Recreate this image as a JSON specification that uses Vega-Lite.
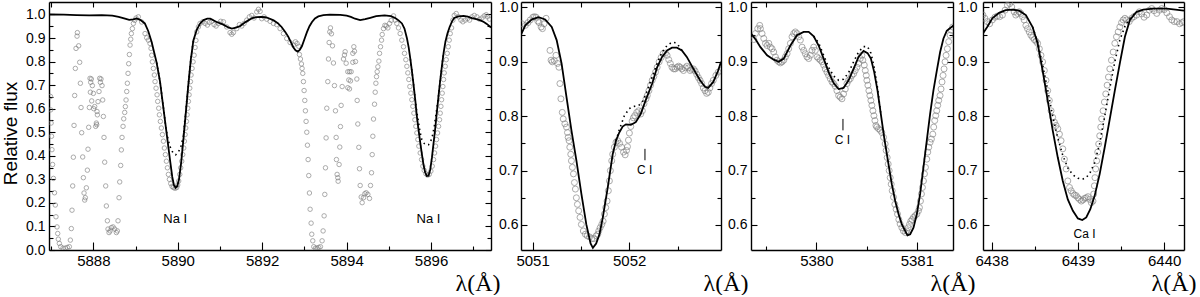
{
"$schema": "https://vega.github.io/schema/vega-lite/v6.json",
"padding": {"left": 1, "top": 0, "right": 0, "bottom": 0},
"spacing": 30,
"bounds": "flush",
"config": {
  "view": {"stroke": null},
  "axis": {"domainColor": "black", "domainWidth": 1.4, "tickColor": "black", "tickWidth": 1.1, "labelColor": "black", "labelFont": "Liberation Sans", "labelFontSize": 14, "labelOverlap": false, "labelFlush": false, "grid": false, "tickSize": -5, "titleColor": "black", "titleFontWeight": "normal"}
},
"datasets": {
"o1": [
{"w":5886.985,"f":0.652},{"w":5886.99,"f":0.595},{"w":5887.0,"f":0.539},{"w":5887.01,"f":0.483},{"w":5887.02,"f":0.426},{"w":5887.035,"f":0.363},{"w":5887.055,"f":0.304},{"w":5887.08,"f":0.243},{"w":5887.1,"f":0.191},{"w":5887.115,"f":0.141},{"w":5887.14,"f":0.098},{"w":5887.156,"f":0.07},{"w":5887.171,"f":0.046},{"w":5887.195,"f":0.028},{"w":5887.227,"f":0.014},{"w":5887.282,"f":0.008},{"w":5887.337,"f":0.008},{"w":5887.385,"f":0.011},{"w":5887.432,"f":0.014},
{"w":5887.456,"f":0.042},{"w":5887.479,"f":0.091},{"w":5887.495,"f":0.169},{"w":5887.511,"f":0.272},{"w":5887.527,"f":0.394},{"w":5887.543,"f":0.529},{"w":5887.558,"f":0.656},{"w":5887.574,"f":0.771},{"w":5887.59,"f":0.856},{"w":5887.614,"f":0.908},{"w":5887.622,"f":0.923},
{"w":5887.653,"f":0.867},{"w":5887.677,"f":0.797},{"w":5887.693,"f":0.708},{"w":5887.709,"f":0.605},{"w":5887.724,"f":0.498},{"w":5887.748,"f":0.395},{"w":5887.764,"f":0.307},{"w":5887.78,"f":0.242},{"w":5887.795,"f":0.212},{"w":5887.811,"f":0.222},
{"w":5887.835,"f":0.264},{"w":5887.859,"f":0.339},{"w":5887.874,"f":0.428},{"w":5887.89,"f":0.521},{"w":5887.906,"f":0.605},{"w":5887.93,"f":0.67},
{"w":5887.922,"f":0.729},{"w":5887.953,"f":0.726},{"w":5887.938,"f":0.712},{"w":5887.977,"f":0.698},{"w":5888.001,"f":0.665},{"w":5887.961,"f":0.633},{"w":5888.032,"f":0.609},{"w":5888.009,"f":0.6},{"w":5888.088,"f":0.588},{"w":5888.111,"f":0.63},{"w":5888.151,"f":0.729},{"w":5888.182,"f":0.726},{"w":5888.167,"f":0.712},{"w":5888.206,"f":0.698},{"w":5888.135,"f":0.673},{"w":5888.222,"f":0.637},{"w":5888.238,"f":0.567},{"w":5888.096,"f":0.574},{"w":5888.072,"f":0.539},{"w":5888.056,"f":0.525},{"w":5888.08,"f":0.532},
{"w":5888.253,"f":0.478},{"w":5888.269,"f":0.373},{"w":5888.293,"f":0.272},{"w":5888.309,"f":0.187},{"w":5888.333,"f":0.124},{"w":5888.348,"f":0.089},{"w":5888.372,"f":0.074},{"w":5888.396,"f":0.081},{"w":5888.427,"f":0.095},{"w":5888.467,"f":0.098},{"w":5888.506,"f":0.089},{"w":5888.546,"f":0.074},{"w":5888.569,"f":0.081},
{"w":5888.585,"f":0.124},{"w":5888.609,"f":0.222},{"w":5888.625,"f":0.289},{"w":5888.648,"f":0.359},{"w":5888.664,"f":0.425},{"w":5888.68,"f":0.478},{"w":5888.704,"f":0.525},{"w":5888.72,"f":0.557},{"w":5888.743,"f":0.584},{"w":5888.759,"f":0.609},{"w":5888.775,"f":0.637},{"w":5888.791,"f":0.673},{"w":5888.806,"f":0.708},{"w":5888.822,"f":0.75},{"w":5888.838,"f":0.791},{"w":5888.854,"f":0.83},{"w":5888.87,"f":0.87},{"w":5888.886,"f":0.895},{"w":5888.901,"f":0.919},{"w":5888.925,"f":0.94},{"w":5888.949,"f":0.962},{"w":5888.98,"f":0.975},{"w":5889.012,"f":0.985},
{"w":5889.066,"f":0.99},{"w":5889.146,"f":0.968},{"w":5889.225,"f":0.919},{"w":5889.264,"f":0.901},{"w":5889.304,"f":0.891},{"w":5889.343,"f":0.877},{"w":5889.367,"f":0.856},{"w":5889.383,"f":0.827},{"w":5889.399,"f":0.799},{"w":5889.422,"f":0.771},{"w":5889.446,"f":0.743},{"w":5889.462,"f":0.715},{"w":5889.486,"f":0.687},{"w":5889.51,"f":0.659},{"w":5889.525,"f":0.631},{"w":5889.549,"f":0.602},{"w":5889.565,"f":0.574},{"w":5889.588,"f":0.546},{"w":5889.612,"f":0.518},{"w":5889.636,"f":0.49},{"w":5889.66,"f":0.462},{"w":5889.683,"f":0.433},{"w":5889.707,"f":0.405},{"w":5889.731,"f":0.377},{"w":5889.755,"f":0.349},{"w":5889.778,"f":0.321},{"w":5889.802,"f":0.3},{"w":5889.834,"f":0.282},{"w":5889.865,"f":0.27},{"w":5889.897,"f":0.265},{"w":5889.936,"f":0.262},{"w":5889.975,"f":0.265},{"w":5889.999,"f":0.276},{"w":5890.023,"f":0.293},{"w":5890.047,"f":0.321},{"w":5890.07,"f":0.349},{"w":5890.094,"f":0.377},{"w":5890.118,"f":0.405},{"w":5890.142,"f":0.433},{"w":5890.157,"f":0.462},{"w":5890.173,"f":0.49},{"w":5890.189,"f":0.518},{"w":5890.205,"f":0.546},{"w":5890.221,"f":0.574},{"w":5890.237,"f":0.602},{"w":5890.252,"f":0.631},{"w":5890.268,"f":0.659},{"w":5890.284,"f":0.687},{"w":5890.3,"f":0.715},{"w":5890.315,"f":0.743},{"w":5890.339,"f":0.771},{"w":5890.363,"f":0.799},{"w":5890.387,"f":0.827},{"w":5890.41,"f":0.86},{"w":5890.43,"f":0.89},
{"w":5890.449,"f":0.926},{"w":5890.489,"f":0.947},{"w":5890.528,"f":0.962},{"w":5890.592,"f":0.969},{"w":5890.647,"f":0.962},{"w":5890.702,"f":0.955},{"w":5890.75,"f":0.966},{"w":5890.805,"f":0.971},{"w":5890.86,"f":0.957},{"w":5890.908,"f":0.951},{"w":5890.963,"f":0.962},{"w":5891.018,"f":0.971},{"w":5891.082,"f":0.969},{"w":5891.16,"f":0.947},{"w":5891.239,"f":0.923},{"w":5891.279,"f":0.916},{"w":5891.318,"f":0.923},{"w":5891.397,"f":0.94},{"w":5891.46,"f":0.957},{"w":5891.516,"f":0.951},{"w":5891.571,"f":0.962},{"w":5891.634,"f":0.976},{"w":5891.697,"f":0.99},{"w":5891.753,"f":0.996},{"w":5891.808,"f":0.985},{"w":5891.871,"f":1.011},{"w":5891.911,"f":1.022},{"w":5891.95,"f":1.013},{"w":5891.99,"f":0.982},{"w":5892.045,"f":0.99},{"w":5892.108,"f":0.98},{"w":5892.187,"f":0.971},{"w":5892.266,"f":0.962},{"w":5892.345,"f":0.957},{"w":5892.424,"f":0.94},{"w":5892.503,"f":0.919},{"w":5892.582,"f":0.898},{"w":5892.661,"f":0.881},{"w":5892.74,"f":0.87},{"w":5892.787,"f":0.884},{"w":5892.827,"f":0.877},{"w":5892.866,"f":0.865},
{"w":5892.882,"f":0.83},{"w":5892.906,"f":0.811},{"w":5892.93,"f":0.79},{"w":5892.945,"f":0.771},{"w":5892.961,"f":0.75},{"w":5892.977,"f":0.715},{"w":5892.993,"f":0.677},{"w":5893.009,"f":0.635},{"w":5893.024,"f":0.591},{"w":5893.04,"f":0.546},{"w":5893.056,"f":0.5},{"w":5893.072,"f":0.445},{"w":5893.088,"f":0.384},{"w":5893.103,"f":0.316},{"w":5893.119,"f":0.242},{"w":5893.135,"f":0.173},{"w":5893.159,"f":0.114},{"w":5893.174,"f":0.067},{"w":5893.198,"f":0.039},{"w":5893.222,"f":0.014},{"w":5893.261,"f":0.008},{"w":5893.301,"f":0.008},{"w":5893.34,"f":0.011},{"w":5893.38,"f":0.014},{"w":5893.419,"f":0.039},{"w":5893.443,"f":0.081},{"w":5893.467,"f":0.145},
{"w":5893.483,"f":0.236},{"w":5893.499,"f":0.349},{"w":5893.514,"f":0.476},{"w":5893.53,"f":0.602},{"w":5893.554,"f":0.715},{"w":5893.57,"f":0.811},{"w":5893.586,"f":0.881},{"w":5893.601,"f":0.926},{"w":5893.617,"f":0.943},{"w":5893.641,"f":0.918},{"w":5893.665,"f":0.867},{"w":5893.688,"f":0.794},{"w":5893.712,"f":0.698},{"w":5893.736,"f":0.591},{"w":5893.752,"f":0.478},{"w":5893.759,"f":0.384},{"w":5893.775,"f":0.321},{"w":5893.791,"f":0.307},{"w":5893.799,"f":0.292},{"w":5893.87,"f":0.614},{"w":5893.854,"f":0.524},{"w":5893.838,"f":0.437},{"w":5893.822,"f":0.363},{"w":5893.965,"f":0.842},{"w":5893.949,"f":0.828},{"w":5893.926,"f":0.811},{"w":5893.989,"f":0.793},{"w":5894.028,"f":0.757},{"w":5894.068,"f":0.757},{"w":5894.107,"f":0.757},{"w":5894.052,"f":0.722},{"w":5894.092,"f":0.718},{"w":5894.028,"f":0.689},{"w":5894.068,"f":0.684},{"w":5893.894,"f":0.694},{"w":5894.171,"f":0.863},{"w":5894.186,"f":0.844},{"w":5894.147,"f":0.835},{"w":5894.21,"f":0.8},{"w":5894.147,"f":0.797},{"w":5894.242,"f":0.726},{"w":5894.25,"f":0.635},{"w":5894.265,"f":0.535},{"w":5894.289,"f":0.436},{"w":5894.305,"f":0.345},{"w":5894.321,"f":0.274},{"w":5894.345,"f":0.225},{"w":5894.368,"f":0.201},{"w":5894.4,"f":0.222},{"w":5894.432,"f":0.239},{"w":5894.463,"f":0.243},{"w":5894.503,"f":0.236},{"w":5894.542,"f":0.219},{"w":5894.566,"f":0.274},{"w":5894.59,"f":0.328},{"w":5894.606,"f":0.405},{"w":5894.621,"f":0.483},{"w":5894.637,"f":0.556},{"w":5894.661,"f":0.619},{"w":5894.677,"f":0.67},{"w":5894.693,"f":0.708},{"w":5894.708,"f":0.736},{"w":5894.724,"f":0.757},{"w":5894.74,"f":0.778},{"w":5894.764,"f":0.802},{"w":5894.78,"f":0.835},{"w":5894.803,"f":0.863},{"w":5894.827,"f":0.891},{"w":5894.843,"f":0.915},{"w":5894.874,"f":0.94},{"w":5894.906,"f":0.954},{"w":5894.938,"f":0.951},{"w":5894.977,"f":0.943},{"w":5895.017,"f":0.962},{"w":5895.056,"f":0.975},{"w":5895.112,"f":0.994},
{"w":5895.149,"f":0.976},{"w":5895.189,"f":0.962},{"w":5895.228,"f":0.943},{"w":5895.268,"f":0.919},{"w":5895.307,"f":0.891},{"w":5895.347,"f":0.863},{"w":5895.371,"f":0.835},{"w":5895.403,"f":0.808},{"w":5895.427,"f":0.78},{"w":5895.45,"f":0.752},{"w":5895.474,"f":0.724},{"w":5895.498,"f":0.694},{"w":5895.522,"f":0.666},{"w":5895.545,"f":0.638},{"w":5895.569,"f":0.61},{"w":5895.593,"f":0.581},{"w":5895.617,"f":0.553},{"w":5895.64,"f":0.525},{"w":5895.664,"f":0.497},{"w":5895.688,"f":0.469},{"w":5895.711,"f":0.441},{"w":5895.743,"f":0.412},{"w":5895.775,"f":0.384},{"w":5895.806,"f":0.356},{"w":5895.838,"f":0.338},{"w":5895.877,"f":0.324},{"w":5895.917,"f":0.318},{"w":5895.957,"f":0.321},{"w":5895.996,"f":0.335},{"w":5896.028,"f":0.356},{"w":5896.059,"f":0.384},{"w":5896.083,"f":0.412},{"w":5896.107,"f":0.441},{"w":5896.13,"f":0.469},{"w":5896.154,"f":0.497},{"w":5896.178,"f":0.525},{"w":5896.201,"f":0.553},{"w":5896.217,"f":0.581},{"w":5896.233,"f":0.61},{"w":5896.249,"f":0.638},{"w":5896.265,"f":0.666},{"w":5896.28,"f":0.694},{"w":5896.296,"f":0.724},{"w":5896.312,"f":0.752},{"w":5896.336,"f":0.78},{"w":5896.359,"f":0.808},{"w":5896.383,"f":0.835},{"w":5896.407,"f":0.863},{"w":5896.43,"f":0.891},{"w":5896.454,"f":0.919},{"w":5896.486,"f":0.943},{"w":5896.517,"f":0.976},{"w":5896.549,"f":0.996},{"w":5896.596,"f":1.004},{"w":5896.652,"f":0.99},{"w":5896.707,"f":0.976},{"w":5896.754,"f":0.969},{"w":5896.81,"f":0.976},{"w":5896.865,"f":0.983},{"w":5896.912,"f":0.976},{"w":5896.968,"f":0.99},{"w":5897.023,"f":0.996},{"w":5897.086,"f":0.99},{"w":5897.15,"f":0.98},{"w":5897.205,"f":0.985},{"w":5897.258,"f":0.994},{"w":5897.306,"f":0.999},{"w":5897.337,"f":0.99},{"w":5897.385,"f":0.98}
],
"m1": [
{"w":5886.95,"f":1.0},{"w":5887.3,"f":0.999},{"w":5887.6,"f":0.997},{"w":5887.9,"f":0.996},{"w":5888.2,"f":0.997},{"w":5888.45,"f":0.995},{"w":5888.6,"f":0.99},{"w":5888.75,"f":0.982},{"w":5888.85,"f":0.977},{"w":5888.95,"f":0.979},{"w":5889.03,"f":0.983},{"w":5889.12,"f":0.976},{"w":5889.22,"f":0.962},{"w":5889.3,"f":0.93},{"w":5889.38,"f":0.884},{"w":5889.44,"f":0.84},{"w":5889.5,"f":0.795},{"w":5889.58,"f":0.715},{"w":5889.66,"f":0.602},{"w":5889.74,"f":0.49},{"w":5889.82,"f":0.377},{"w":5889.87,"f":0.31},{"w":5889.91,"f":0.275},{"w":5889.95,"f":0.264},{"w":5889.99,"f":0.272},{"w":5890.03,"f":0.3},{"w":5890.08,"f":0.37},{"w":5890.13,"f":0.462},{"w":5890.19,"f":0.58},{"w":5890.25,"f":0.7},{"w":5890.31,"f":0.81},{"w":5890.37,"f":0.89},{"w":5890.45,"f":0.935},{"w":5890.53,"f":0.962},{"w":5890.61,"f":0.976},{"w":5890.7,"f":0.982},{"w":5890.77,"f":0.982},{"w":5890.92,"f":0.968},{"w":5891.08,"f":0.957},{"w":5891.2,"f":0.945},{"w":5891.28,"f":0.94},{"w":5891.38,"f":0.944},{"w":5891.48,"f":0.951},{"w":5891.58,"f":0.965},{"w":5891.67,"f":0.975},{"w":5891.77,"f":0.985},{"w":5891.87,"f":0.989},{"w":5891.97,"f":0.99},{"w":5892.07,"f":0.989},{"w":5892.17,"f":0.983},{"w":5892.27,"f":0.975},{"w":5892.37,"f":0.963},{"w":5892.46,"f":0.947},{"w":5892.55,"f":0.925},{"w":5892.62,"f":0.905},{"w":5892.69,"f":0.878},{"w":5892.74,"f":0.86},{"w":5892.79,"f":0.848},{"w":5892.84,"f":0.842},{"w":5892.89,"f":0.85},{"w":5892.94,"f":0.865},{"w":5893.0,"f":0.895},{"w":5893.06,"f":0.925},{"w":5893.12,"f":0.95},{"w":5893.18,"f":0.968},{"w":5893.25,"f":0.983},{"w":5893.33,"f":0.992},{"w":5893.45,"f":0.997},{"w":5893.6,"f":0.999},{"w":5893.85,"f":0.998},{"w":5894.0,"f":0.995},{"w":5894.1,"f":0.99},{"w":5894.2,"f":0.982},{"w":5894.32,"f":0.976},{"w":5894.44,"f":0.98},{"w":5894.56,"f":0.986},{"w":5894.7,"f":0.993},{"w":5894.9,"f":0.996},{"w":5895.05,"f":0.993},{"w":5895.15,"f":0.985},{"w":5895.23,"f":0.975},{"w":5895.31,"f":0.962},{"w":5895.37,"f":0.94},{"w":5895.43,"f":0.898},{"w":5895.47,"f":0.86},{"w":5895.51,"f":0.81},{"w":5895.55,"f":0.755},{"w":5895.59,"f":0.695},{"w":5895.63,"f":0.63},{"w":5895.66,"f":0.574},{"w":5895.7,"f":0.515},{"w":5895.74,"f":0.461},{"w":5895.78,"f":0.41},{"w":5895.82,"f":0.363},{"w":5895.86,"f":0.33},{"w":5895.9,"f":0.314},{"w":5895.94,"f":0.315},{"w":5895.98,"f":0.34},{"w":5896.02,"f":0.391},{"w":5896.06,"f":0.455},{"w":5896.1,"f":0.518},{"w":5896.14,"f":0.59},{"w":5896.18,"f":0.659},{"w":5896.22,"f":0.725},{"w":5896.26,"f":0.785},{"w":5896.3,"f":0.84},{"w":5896.34,"f":0.884},{"w":5896.39,"f":0.92},{"w":5896.44,"f":0.947},{"w":5896.5,"f":0.972},{"w":5896.55,"f":0.985},{"w":5896.65,"f":0.992},{"w":5896.77,"f":0.994},{"w":5896.87,"f":0.991},{"w":5896.97,"f":0.985},{"w":5897.07,"f":0.98},{"w":5897.17,"f":0.975},{"w":5897.25,"f":0.968},{"w":5897.32,"f":0.96},{"w":5897.42,"f":0.945}
],
"d1": [
{"w":5889.5,"f":0.795},{"w":5889.58,"f":0.715},{"w":5889.66,"f":0.605},{"w":5889.72,"f":0.515},{"w":5889.78,"f":0.462},{"w":5889.84,"f":0.427},{"w":5889.9,"f":0.409},{"w":5889.95,"f":0.404},{"w":5890.01,"f":0.415},{"w":5890.07,"f":0.436},{"w":5890.13,"f":0.48},{"w":5890.17,"f":0.55},{"w":5890.21,"f":0.625},{"w":5890.25,"f":0.7},{"w":5890.31,"f":0.81},{"w":5890.37,"f":0.89},
{"w":5895.51,"f":0.81},{"w":5895.55,"f":0.755},{"w":5895.59,"f":0.695},{"w":5895.63,"f":0.63},{"w":5895.66,"f":0.59},{"w":5895.7,"f":0.545},{"w":5895.74,"f":0.5},{"w":5895.78,"f":0.47},{"w":5895.84,"f":0.452},{"w":5895.89,"f":0.446},{"w":5895.94,"f":0.447},{"w":5895.99,"f":0.46},{"w":5896.04,"f":0.49},{"w":5896.08,"f":0.53},{"w":5896.12,"f":0.58},{"w":5896.16,"f":0.63},{"w":5896.18,"f":0.659},{"w":5896.22,"f":0.725},{"w":5896.26,"f":0.785},{"w":5896.3,"f":0.84}
],
"t1": [{"w":5889.94,"f":0.132,"t":"Na I"},{"w":5895.94,"f":0.132,"t":"Na I"}],
"o2": [
{"w":5050.89,"f":0.97},{"w":5050.925,"f":0.967},{"w":5050.952,"f":0.972},{"w":5050.976,"f":0.977},{"w":5051.003,"f":0.982},{"w":5051.02,"f":0.983},{"w":5051.037,"f":0.982},{"w":5051.054,"f":0.975},{"w":5051.068,"f":0.972},{"w":5051.088,"f":0.964},{"w":5051.102,"f":0.961},{"w":5051.119,"f":0.97},{"w":5051.14,"f":0.98},{"w":5051.18,"f":0.921},{"w":5051.191,"f":0.903},{"w":5051.204,"f":0.9},{"w":5051.225,"f":0.902},{"w":5051.242,"f":0.912},{"w":5051.259,"f":0.897},{"w":5051.273,"f":0.89},{"w":5051.283,"f":0.86},{"w":5051.293,"f":0.832},{"w":5051.307,"f":0.807},{"w":5051.317,"f":0.795},{"w":5051.334,"f":0.786},{"w":5051.351,"f":0.78},{"w":5051.361,"f":0.77},{"w":5051.368,"f":0.761},{"w":5051.378,"f":0.755},{"w":5051.385,"f":0.743},{"w":5051.395,"f":0.73},{"w":5051.402,"f":0.718},{"w":5051.412,"f":0.706},{"w":5051.423,"f":0.694},{"w":5051.433,"f":0.678},{"w":5051.443,"f":0.666},{"w":5051.453,"f":0.65},{"w":5051.464,"f":0.638},{"w":5051.477,"f":0.626},{"w":5051.491,"f":0.614},{"w":5051.505,"f":0.601},{"w":5051.525,"f":0.589},{"w":5051.546,"f":0.583},{"w":5051.566,"f":0.58},{"w":5051.59,"f":0.578},{"w":5051.614,"f":0.575},{"w":5051.634,"f":0.575},{"w":5051.658,"f":0.58},{"w":5051.675,"f":0.583},{"w":5051.685,"f":0.589},{"w":5051.699,"f":0.595},{"w":5051.716,"f":0.601},{"w":5051.73,"f":0.607},{"w":5051.743,"f":0.62},{"w":5051.757,"f":0.632},{"w":5051.771,"f":0.644},{"w":5051.784,"f":0.663},{"w":5051.795,"f":0.681},{"w":5051.805,"f":0.7},{"w":5051.819,"f":0.718},{"w":5051.829,"f":0.73},{"w":5051.846,"f":0.743},{"w":5051.863,"f":0.752},{"w":5051.88,"f":0.755},{"w":5051.9,"f":0.75},{"w":5051.921,"f":0.743},{"w":5051.941,"f":0.734},{"w":5051.958,"f":0.729},{"w":5051.972,"f":0.737},{"w":5051.982,"f":0.744},{"w":5051.992,"f":0.756},{"w":5052.002,"f":0.769},{"w":5052.016,"f":0.781},{"w":5052.03,"f":0.791},{"w":5052.043,"f":0.797},{"w":5052.057,"f":0.801},{"w":5052.078,"f":0.807},{"w":5052.098,"f":0.81},{"w":5052.119,"f":0.804},{"w":5052.136,"f":0.81},{"w":5052.153,"f":0.823},{"w":5052.174,"f":0.832},{"w":5052.187,"f":0.838},{"w":5052.204,"f":0.847},{"w":5052.221,"f":0.857},{"w":5052.238,"f":0.866},{"w":5052.255,"f":0.873},{"w":5052.272,"f":0.881},{"w":5052.289,"f":0.89},{"w":5052.31,"f":0.9},{"w":5052.33,"f":0.908},{"w":5052.351,"f":0.915},{"w":5052.375,"f":0.916},{"w":5052.392,"f":0.912},{"w":5052.409,"f":0.904},{"w":5052.426,"f":0.897},{"w":5052.443,"f":0.89},{"w":5052.46,"f":0.887},{"w":5052.477,"f":0.887},{"w":5052.494,"f":0.89},{"w":5052.511,"f":0.892},{"w":5052.528,"f":0.89},{"w":5052.545,"f":0.887},{"w":5052.562,"f":0.884},{"w":5052.58,"f":0.889},{"w":5052.597,"f":0.892},{"w":5052.614,"f":0.889},{"w":5052.631,"f":0.884},{"w":5052.648,"f":0.886},{"w":5052.665,"f":0.887},{"w":5052.682,"f":0.883},{"w":5052.699,"f":0.877},{"w":5052.716,"f":0.871},{"w":5052.733,"f":0.866},{"w":5052.75,"f":0.86},{"w":5052.767,"f":0.852},{"w":5052.784,"f":0.847},{"w":5052.801,"f":0.842},{"w":5052.818,"f":0.844},{"w":5052.835,"f":0.852},{"w":5052.852,"f":0.86},{"w":5052.87,"f":0.866},{"w":5052.897,"f":0.875},{"w":5052.921,"f":0.881},{"w":5052.945,"f":0.884}
],
"m2": [
{"w":5050.88,"f":0.95},{"w":5050.925,"f":0.967},{"w":5050.993,"f":0.978},{"w":5051.061,"f":0.982},{"w":5051.13,"f":0.978},{"w":5051.198,"f":0.964},{"w":5051.249,"f":0.94},{"w":5051.3,"f":0.897},{"w":5051.351,"f":0.835},{"w":5051.402,"f":0.774},{"w":5051.454,"f":0.718},{"w":5051.505,"f":0.657},{"w":5051.556,"f":0.601},{"w":5051.6,"f":0.566},{"w":5051.624,"f":0.558},{"w":5051.658,"f":0.566},{"w":5051.692,"f":0.583},{"w":5051.727,"f":0.614},{"w":5051.778,"f":0.669},{"w":5051.829,"f":0.73},{"w":5051.863,"f":0.755},{"w":5051.897,"f":0.77},{"w":5051.932,"f":0.781},{"w":5051.966,"f":0.785},{"w":5052.017,"f":0.784},{"w":5052.068,"f":0.789},{"w":5052.119,"f":0.804},{"w":5052.17,"f":0.829},{"w":5052.238,"f":0.86},{"w":5052.289,"f":0.89},{"w":5052.34,"f":0.909},{"w":5052.392,"f":0.921},{"w":5052.443,"f":0.926},{"w":5052.494,"f":0.926},{"w":5052.545,"f":0.921},{"w":5052.596,"f":0.909},{"w":5052.665,"f":0.887},{"w":5052.733,"f":0.866},{"w":5052.784,"f":0.854},{"w":5052.818,"f":0.852},{"w":5052.87,"f":0.863},{"w":5052.921,"f":0.884},{"w":5052.95,"f":0.9}
],
"d2": [
{"w":5051.863,"f":0.755},{"w":5051.897,"f":0.775},{"w":5051.95,"f":0.801},{"w":5052.0,"f":0.814},{"w":5052.05,"f":0.818},{"w":5052.1,"f":0.82},{"w":5052.147,"f":0.829},{"w":5052.187,"f":0.848},{"w":5052.238,"f":0.872},{"w":5052.289,"f":0.897},{"w":5052.34,"f":0.918},{"w":5052.392,"f":0.93},{"w":5052.443,"f":0.936},{"w":5052.48,"f":0.935},{"w":5052.52,"f":0.928},{"w":5052.545,"f":0.921}
],
"t2": [{"w":5052.16,"f":0.701,"t":"C I"}],
"r2": [{"w":5052.163,"f":0.719,"f2":0.74}],
"o3": [
{"w":5379.378,"f":0.941},{"w":5379.394,"f":0.952},{"w":5379.417,"f":0.961},{"w":5379.437,"f":0.967},{"w":5379.444,"f":0.961},{"w":5379.46,"f":0.952},{"w":5379.477,"f":0.943},{"w":5379.494,"f":0.934},{"w":5379.51,"f":0.93},{"w":5379.527,"f":0.934},{"w":5379.543,"f":0.927},{"w":5379.56,"f":0.924},{"w":5379.576,"f":0.918},{"w":5379.593,"f":0.909},{"w":5379.609,"f":0.903},{"w":5379.626,"f":0.9},{"w":5379.643,"f":0.898},{"w":5379.659,"f":0.9},{"w":5379.676,"f":0.903},{"w":5379.692,"f":0.909},{"w":5379.709,"f":0.915},{"w":5379.725,"f":0.924},{"w":5379.742,"f":0.934},{"w":5379.758,"f":0.946},{"w":5379.775,"f":0.952},{"w":5379.791,"f":0.955},{"w":5379.808,"f":0.952},{"w":5379.825,"f":0.946},{"w":5379.841,"f":0.94},{"w":5379.858,"f":0.927},{"w":5379.874,"f":0.921},{"w":5379.891,"f":0.915},{"w":5379.907,"f":0.909},{"w":5379.924,"f":0.906},{"w":5379.94,"f":0.912},{"w":5379.957,"f":0.921},{"w":5379.974,"f":0.927},{"w":5379.99,"f":0.921},{"w":5380.007,"f":0.909},{"w":5380.023,"f":0.906},{"w":5380.04,"f":0.903},{"w":5380.056,"f":0.9},{"w":5380.073,"f":0.894},{"w":5380.089,"f":0.887},{"w":5380.106,"f":0.881},{"w":5380.122,"f":0.875},{"w":5380.139,"f":0.869},{"w":5380.156,"f":0.863},{"w":5380.172,"f":0.86},{"w":5380.189,"f":0.855},{"w":5380.205,"f":0.847},{"w":5380.222,"f":0.838},{"w":5380.238,"f":0.835},{"w":5380.255,"f":0.832},{"w":5380.271,"f":0.841},{"w":5380.288,"f":0.85},{"w":5380.305,"f":0.86},{"w":5380.321,"f":0.866},{"w":5380.338,"f":0.869},{"w":5380.354,"f":0.875},{"w":5380.371,"f":0.878},{"w":5380.387,"f":0.884},{"w":5380.404,"f":0.89},{"w":5380.42,"f":0.897},{"w":5380.437,"f":0.906},{"w":5380.453,"f":0.912},{"w":5380.463,"f":0.903},{"w":5380.477,"f":0.894},{"w":5380.487,"f":0.884},{"w":5380.497,"f":0.875},{"w":5380.503,"f":0.866},{"w":5380.513,"f":0.857},{"w":5380.523,"f":0.847},{"w":5380.533,"f":0.838},{"w":5380.543,"f":0.829},{"w":5380.553,"f":0.82},{"w":5380.563,"f":0.81},{"w":5380.573,"f":0.801},{"w":5380.583,"f":0.792},{"w":5380.593,"f":0.783},{"w":5380.602,"f":0.78},{"w":5380.619,"f":0.777},{"w":5380.636,"f":0.774},{"w":5380.652,"f":0.77},{"w":5380.669,"f":0.761},{"w":5380.685,"f":0.749},{"w":5380.695,"f":0.737},{"w":5380.705,"f":0.724},{"w":5380.715,"f":0.712},{"w":5380.725,"f":0.7},{"w":5380.735,"f":0.687},{"w":5380.745,"f":0.675},{"w":5380.755,"f":0.663},{"w":5380.768,"f":0.651},{"w":5380.781,"f":0.638},{"w":5380.794,"f":0.629},{"w":5380.808,"f":0.62},{"w":5380.821,"f":0.61},{"w":5380.834,"f":0.602},{"w":5380.851,"f":0.595},{"w":5380.867,"f":0.589},{"w":5380.887,"f":0.586},{"w":5380.9,"f":0.589},{"w":5380.914,"f":0.595},{"w":5380.927,"f":0.601},{"w":5380.94,"f":0.607},{"w":5380.953,"f":0.61},{"w":5380.967,"f":0.614},{"w":5380.983,"f":0.617},{"w":5381.0,"f":0.62},{"w":5381.016,"f":0.626},{"w":5381.026,"f":0.632},{"w":5381.036,"f":0.644},{"w":5381.046,"f":0.657},{"w":5381.056,"f":0.669},{"w":5381.066,"f":0.681},{"w":5381.076,"f":0.694},{"w":5381.086,"f":0.706},{"w":5381.099,"f":0.721},{"w":5381.109,"f":0.734},{"w":5381.119,"f":0.743},{"w":5381.132,"f":0.752},{"w":5381.145,"f":0.758},{"w":5381.159,"f":0.767},{"w":5381.168,"f":0.78},{"w":5381.178,"f":0.792},{"w":5381.188,"f":0.801},{"w":5381.198,"f":0.81},{"w":5381.208,"f":0.82},{"w":5381.218,"f":0.829},{"w":5381.231,"f":0.838},{"w":5381.241,"f":0.85},{"w":5381.251,"f":0.863},{"w":5381.261,"f":0.875},{"w":5381.271,"f":0.887},{"w":5381.281,"f":0.9},{"w":5381.291,"f":0.912},{"w":5381.304,"f":0.924},{"w":5381.317,"f":0.937},{"w":5381.331,"f":0.949},{"w":5381.344,"f":0.958},{"w":5381.357,"f":0.964}
],
"m3": [
{"w":5379.35,"f":0.952},{"w":5379.4,"f":0.94},{"w":5379.444,"f":0.927},{"w":5379.51,"f":0.912},{"w":5379.576,"f":0.904},{"w":5379.626,"f":0.9},{"w":5379.676,"f":0.906},{"w":5379.742,"f":0.93},{"w":5379.808,"f":0.949},{"w":5379.874,"f":0.955},{"w":5379.924,"f":0.955},{"w":5379.974,"f":0.947},{"w":5380.023,"f":0.93},{"w":5380.073,"f":0.906},{"w":5380.122,"f":0.881},{"w":5380.172,"f":0.861},{"w":5380.222,"f":0.85},{"w":5380.271,"f":0.852},{"w":5380.321,"f":0.866},{"w":5380.371,"f":0.887},{"w":5380.42,"f":0.909},{"w":5380.47,"f":0.92},{"w":5380.51,"f":0.916},{"w":5380.543,"f":0.906},{"w":5380.576,"f":0.881},{"w":5380.609,"f":0.847},{"w":5380.642,"f":0.804},{"w":5380.675,"f":0.761},{"w":5380.718,"f":0.712},{"w":5380.751,"f":0.675},{"w":5380.785,"f":0.644},{"w":5380.818,"f":0.62},{"w":5380.851,"f":0.601},{"w":5380.884,"f":0.589},{"w":5380.907,"f":0.581},{"w":5380.934,"f":0.583},{"w":5380.967,"f":0.595},{"w":5381.0,"f":0.62},{"w":5381.033,"f":0.657},{"w":5381.066,"f":0.706},{"w":5381.099,"f":0.755},{"w":5381.132,"f":0.804},{"w":5381.165,"f":0.847},{"w":5381.199,"f":0.884},{"w":5381.232,"f":0.918},{"w":5381.265,"f":0.943},{"w":5381.298,"f":0.957},{"w":5381.364,"f":0.967}
],
"d3": [
{"w":5379.974,"f":0.947},{"w":5380.023,"f":0.935},{"w":5380.073,"f":0.912},{"w":5380.122,"f":0.89},{"w":5380.172,"f":0.874},{"w":5380.222,"f":0.866},{"w":5380.271,"f":0.868},{"w":5380.321,"f":0.88},{"w":5380.371,"f":0.9},{"w":5380.42,"f":0.918},{"w":5380.47,"f":0.928},{"w":5380.51,"f":0.928},{"w":5380.543,"f":0.916},{"w":5380.576,"f":0.89},{"w":5380.609,"f":0.852},{"w":5380.642,"f":0.804}
],
"t3": [{"w":5380.26,"f":0.756,"t":"C I"}],
"r3": [{"w":5380.265,"f":0.774,"f2":0.795}],
"o4": [
{"w":6437.899,"f":0.986},{"w":6437.922,"f":0.98},{"w":6437.949,"f":0.974},{"w":6437.977,"f":0.97},{"w":6438.008,"f":0.977},{"w":6438.039,"f":0.982},{"w":6438.066,"f":0.984},{"w":6438.093,"f":0.983},{"w":6438.125,"f":0.986},{"w":6438.156,"f":0.995},{"w":6438.183,"f":1.004},{"w":6438.21,"f":1.007},{"w":6438.233,"f":1.001},{"w":6438.261,"f":0.992},{"w":6438.28,"f":0.986},{"w":6438.3,"f":0.989},{"w":6438.319,"f":0.992},{"w":6438.339,"f":0.989},{"w":6438.358,"f":0.983},{"w":6438.377,"f":0.977},{"w":6438.397,"f":0.967},{"w":6438.416,"f":0.961},{"w":6438.436,"f":0.955},{"w":6438.455,"f":0.949},{"w":6438.475,"f":0.945},{"w":6438.494,"f":0.941},{"w":6438.514,"f":0.938},{"w":6438.533,"f":0.934},{"w":6438.553,"f":0.924},{"w":6438.572,"f":0.912},{"w":6438.591,"f":0.9},{"w":6438.611,"f":0.884},{"w":6438.63,"f":0.866},{"w":6438.65,"f":0.847},{"w":6438.669,"f":0.829},{"w":6438.689,"f":0.81},{"w":6438.708,"f":0.798},{"w":6438.728,"f":0.789},{"w":6438.747,"f":0.783},{"w":6438.767,"f":0.777},{"w":6438.786,"f":0.767},{"w":6438.805,"f":0.755},{"w":6438.825,"f":0.74},{"w":6438.844,"f":0.721},{"w":6438.864,"f":0.703},{"w":6438.883,"f":0.681},{"w":6438.903,"f":0.669},{"w":6438.922,"f":0.663},{"w":6438.942,"f":0.658},{"w":6438.961,"f":0.655},{"w":6438.981,"f":0.654},{"w":6439.0,"f":0.65},{"w":6439.019,"f":0.647},{"w":6439.039,"f":0.644},{"w":6439.058,"f":0.646},{"w":6439.078,"f":0.649},{"w":6439.097,"f":0.65},{"w":6439.117,"f":0.652},{"w":6439.136,"f":0.647},{"w":6439.156,"f":0.641},{"w":6439.175,"f":0.644},{"w":6439.183,"f":0.657},{"w":6439.191,"f":0.672},{"w":6439.198,"f":0.687},{"w":6439.206,"f":0.703},{"w":6439.218,"f":0.718},{"w":6439.23,"f":0.734},{"w":6439.241,"f":0.749},{"w":6439.253,"f":0.764},{"w":6439.265,"f":0.78},{"w":6439.276,"f":0.795},{"w":6439.292,"f":0.81},{"w":6439.307,"f":0.826},{"w":6439.323,"f":0.841},{"w":6439.339,"f":0.857},{"w":6439.354,"f":0.872},{"w":6439.37,"f":0.887},{"w":6439.389,"f":0.903},{"w":6439.409,"f":0.918},{"w":6439.428,"f":0.934},{"w":6439.447,"f":0.946},{"w":6439.467,"f":0.955},{"w":6439.486,"f":0.964},{"w":6439.506,"f":0.972},{"w":6439.525,"f":0.977},{"w":6439.545,"f":0.98},{"w":6439.564,"f":0.977},{"w":6439.595,"f":0.974},{"w":6439.623,"f":0.98},{"w":6439.65,"f":0.983},{"w":6439.681,"f":0.986},{"w":6439.712,"f":0.992},{"w":6439.739,"f":0.988},{"w":6439.767,"f":0.982},{"w":6439.798,"f":0.986},{"w":6439.829,"f":0.995},{"w":6439.856,"f":0.998},{"w":6439.883,"f":0.994},{"w":6439.914,"f":0.989},{"w":6439.946,"f":0.995},{"w":6439.973,"f":0.998},{"w":6440.0,"f":0.996},{"w":6440.031,"f":0.99},{"w":6440.062,"f":0.983},{"w":6440.089,"f":0.977},{"w":6440.117,"f":0.974},{"w":6440.148,"f":0.974},{"w":6440.179,"f":0.97},{"w":6440.206,"f":0.972},{"w":6440.226,"f":0.974}
],
"m4": [
{"w":6437.899,"f":0.952},{"w":6437.949,"f":0.964},{"w":6438.008,"f":0.98},{"w":6438.086,"f":0.99},{"w":6438.163,"f":0.995},{"w":6438.241,"f":0.996},{"w":6438.319,"f":0.994},{"w":6438.397,"f":0.986},{"w":6438.475,"f":0.964},{"w":6438.533,"f":0.934},{"w":6438.591,"f":0.884},{"w":6438.65,"f":0.829},{"w":6438.708,"f":0.774},{"w":6438.767,"f":0.724},{"w":6438.825,"f":0.681},{"w":6438.883,"f":0.647},{"w":6438.942,"f":0.626},{"w":6439.0,"f":0.612},{"w":6439.051,"f":0.609},{"w":6439.097,"f":0.614},{"w":6439.144,"f":0.629},{"w":6439.195,"f":0.654},{"w":6439.253,"f":0.694},{"w":6439.311,"f":0.743},{"w":6439.37,"f":0.795},{"w":6439.428,"f":0.847},{"w":6439.486,"f":0.897},{"w":6439.545,"f":0.946},{"w":6439.603,"f":0.977},{"w":6439.681,"f":0.992},{"w":6439.759,"f":0.996},{"w":6439.875,"f":0.998},{"w":6440.031,"f":0.998},{"w":6440.23,"f":0.994}
],
"d4": [
{"w":6438.475,"f":0.964},{"w":6438.533,"f":0.936},{"w":6438.591,"f":0.895},{"w":6438.65,"f":0.848},{"w":6438.708,"f":0.8},{"w":6438.767,"f":0.76},{"w":6438.825,"f":0.728},{"w":6438.883,"f":0.705},{"w":6438.942,"f":0.692},{"w":6439.0,"f":0.686},{"w":6439.051,"f":0.684},{"w":6439.097,"f":0.687},{"w":6439.144,"f":0.697},{"w":6439.195,"f":0.715},{"w":6439.253,"f":0.75},{"w":6439.311,"f":0.8},{"w":6439.37,"f":0.852},{"w":6439.428,"f":0.9},{"w":6439.486,"f":0.94},{"w":6439.545,"f":0.965},{"w":6439.603,"f":0.98},{"w":6439.681,"f":0.992}
],
"t4": [{"w":6439.078,"f":0.583,"t":"Ca I"}]
},
"hconcat": [
{
 "width": 442, "height": 248,
 "layer": [
  {"data": {"name": "o1"}, "mark": {"type": "point", "shape": "circle", "filled": false, "size": 20, "stroke": "#7a7a7a", "strokeWidth": 0.9, "clip": true},
   "encoding": {
    "x": {"field": "w", "type": "quantitative", "scale": {"domain": [5886.95, 5897.42], "nice": false, "zero": false},
          "axis": {"orient": "bottom", "values": [5887,5888,5889,5890,5891,5892,5893,5894,5895,5896,5897], "labelExpr": "datum.value % 2 == 0 ? format(datum.value, 'd') : ''", "tickSize": {"condition": {"test": "datum.value % 2 == 0", "value": -8}, "value": -4}, "labelFontSize": 15, "labelPadding": 11, "title": "λ(Å)", "titleFont": "Liberation Serif", "titleFontSize": 24, "titleX": 451, "titleY": 40, "titleAlign": "right", "titleBaseline": "alphabetic"}},
    "y": {"field": "f", "type": "quantitative", "scale": {"domain": [0, 1.053], "nice": false, "zero": false},
          "axis": {"orient": "left", "values": [0,0.05,0.1,0.15,0.2,0.25,0.3,0.35,0.4,0.45,0.5,0.55,0.6,0.65,0.7,0.75,0.8,0.85,0.9,0.95,1.0], "labelExpr": "abs(datum.value*10 - round(datum.value*10)) < 0.01 ? format(datum.value, '.1f') : ''", "tickSize": {"condition": {"test": "abs(datum.value*10 - round(datum.value*10)) < 0.01", "value": -6}, "value": -4}, "labelPadding": 10, "title": "Relative flux", "titleFont": "Liberation Sans", "titleFontSize": 19, "titlePadding": 5, "titleY": 131}}
   }},
  {"data": {"name": "m1"}, "mark": {"type": "line", "color": "black", "strokeWidth": 1.8, "clip": true},
   "encoding": {
    "x": {"field": "w", "type": "quantitative", "scale": {"domain": [5886.95, 5897.42], "nice": false, "zero": false},
          "axis": {"orient": "top", "values": [5887,5888,5889,5890,5891,5892,5893,5894,5895,5896,5897], "labels": false, "title": null}},
    "y": {"field": "f", "type": "quantitative", "scale": {"domain": [0, 1.053], "nice": false, "zero": false},
          "axis": {"orient": "right", "values": [0,0.05,0.1,0.15,0.2,0.25,0.3,0.35,0.4,0.45,0.5,0.55,0.6,0.65,0.7,0.75,0.8,0.85,0.9,0.95,1.0], "tickSize": {"condition": {"test": "abs(datum.value*10 - round(datum.value*10)) < 0.01", "value": -6}, "value": -4}, "labels": false, "title": null}}
   }},
  {"data": {"name": "d1"}, "transform": [{"filter": "datum.w < 5893"}], "mark": {"type": "line", "color": "black", "strokeWidth": 1.6, "strokeDash": [1.5, 3.5], "clip": true},
   "encoding": {
    "x": {"field": "w", "type": "quantitative", "scale": {"domain": [5886.95, 5897.42], "nice": false, "zero": false}, "axis": null},
    "y": {"field": "f", "type": "quantitative", "scale": {"domain": [0, 1.053], "nice": false, "zero": false}, "axis": null}
   }},
  {"data": {"name": "d1"}, "transform": [{"filter": "datum.w > 5893"}], "mark": {"type": "line", "color": "black", "strokeWidth": 1.6, "strokeDash": [1.5, 3.5], "clip": true},
   "encoding": {
    "x": {"field": "w", "type": "quantitative", "scale": {"domain": [5886.95, 5897.42], "nice": false, "zero": false}, "axis": null},
    "y": {"field": "f", "type": "quantitative", "scale": {"domain": [0, 1.053], "nice": false, "zero": false}, "axis": null}
   }},
  {"data": {"name": "t1"}, "mark": {"type": "text", "font": "Liberation Sans", "fontSize": 13, "color": "black", "align": "center", "baseline": "middle"},
   "encoding": {
    "x": {"field": "w", "type": "quantitative", "scale": {"domain": [5886.95, 5897.42], "nice": false, "zero": false}, "axis": null},
    "y": {"field": "f", "type": "quantitative", "scale": {"domain": [0, 1.053], "nice": false, "zero": false}, "axis": null},
    "text": {"field": "t"}
   }}
 ],
 "resolve": {"axis": {"x": "independent", "y": "independent"}}
},
{
 "width": 200, "height": 248,
 "layer": [
  {"data": {"name": "o2"}, "mark": {"type": "point", "shape": "circle", "filled": false, "size": 36, "stroke": "#7a7a7a", "strokeWidth": 0.9, "clip": true},
   "encoding": {
    "x": {"field": "w", "type": "quantitative", "scale": {"domain": [5050.88, 5052.95], "nice": false, "zero": false},
          "axis": {"orient": "bottom", "values": [5051, 5051.5, 5052, 5052.5], "labelExpr": "datum.value % 1 == 0 ? format(datum.value, 'd') : ''", "tickSize": {"condition": {"test": "datum.value % 1 == 0", "value": -8}, "value": -4}, "labelFontSize": 15, "labelPadding": 11, "title": "λ(Å)", "titleFont": "Liberation Serif", "titleFontSize": 24, "titleX": 227, "titleY": 40, "titleAlign": "right", "titleBaseline": "alphabetic"}},
    "y": {"field": "f", "type": "quantitative", "scale": {"domain": [0.554, 1.01], "nice": false, "zero": false},
          "axis": {"orient": "left", "values": [0.6,0.65,0.7,0.75,0.8,0.85,0.9,0.95,1.0], "labelExpr": "abs(datum.value*10 - round(datum.value*10)) < 0.01 ? format(datum.value, '.1f') : ''", "tickSize": {"condition": {"test": "abs(datum.value*10 - round(datum.value*10)) < 0.01", "value": -6}, "value": -4}, "labelPadding": 9, "title": null}}
   }},
  {"data": {"name": "m2"}, "mark": {"type": "line", "color": "black", "strokeWidth": 1.8, "clip": true},
   "encoding": {
    "x": {"field": "w", "type": "quantitative", "scale": {"domain": [5050.88, 5052.95], "nice": false, "zero": false},
          "axis": {"orient": "top", "values": [5051, 5051.5, 5052, 5052.5], "labels": false, "title": null}},
    "y": {"field": "f", "type": "quantitative", "scale": {"domain": [0.554, 1.01], "nice": false, "zero": false},
          "axis": {"orient": "right", "values": [0.6,0.65,0.7,0.75,0.8,0.85,0.9,0.95,1.0], "tickSize": {"condition": {"test": "abs(datum.value*10 - round(datum.value*10)) < 0.01", "value": -6}, "value": -4}, "labels": false, "title": null}}
   }},
  {"data": {"name": "d2"}, "mark": {"type": "line", "color": "black", "strokeWidth": 1.6, "strokeDash": [1.5, 3.5], "clip": true},
   "encoding": {
    "x": {"field": "w", "type": "quantitative", "scale": {"domain": [5050.88, 5052.95], "nice": false, "zero": false}, "axis": null},
    "y": {"field": "f", "type": "quantitative", "scale": {"domain": [0.554, 1.01], "nice": false, "zero": false}, "axis": null}
   }},
  {"data": {"name": "r2"}, "mark": {"type": "rule", "color": "black", "strokeWidth": 1},
   "encoding": {
    "x": {"field": "w", "type": "quantitative", "scale": {"domain": [5050.88, 5052.95], "nice": false, "zero": false}, "axis": null},
    "y": {"field": "f", "type": "quantitative", "scale": {"domain": [0.554, 1.01], "nice": false, "zero": false}, "axis": null},
    "y2": {"field": "f2"}
   }},
  {"data": {"name": "t2"}, "mark": {"type": "text", "font": "Liberation Sans", "fontSize": 12, "color": "black", "align": "center", "baseline": "middle"},
   "encoding": {
    "x": {"field": "w", "type": "quantitative", "scale": {"domain": [5050.88, 5052.95], "nice": false, "zero": false}, "axis": null},
    "y": {"field": "f", "type": "quantitative", "scale": {"domain": [0.554, 1.01], "nice": false, "zero": false}, "axis": null},
    "text": {"field": "t"}
   }}
 ],
 "resolve": {"axis": {"x": "independent", "y": "independent"}}
},
{
 "width": 202, "height": 248,
 "layer": [
  {"data": {"name": "o3"}, "mark": {"type": "point", "shape": "circle", "filled": false, "size": 36, "stroke": "#7a7a7a", "strokeWidth": 0.9, "clip": true},
   "encoding": {
    "x": {"field": "w", "type": "quantitative", "scale": {"domain": [5379.35, 5381.36], "nice": false, "zero": false},
          "axis": {"orient": "bottom", "values": [5379.5, 5380, 5380.5, 5381], "labelExpr": "datum.value % 1 == 0 ? format(datum.value, 'd') : ''", "tickSize": {"condition": {"test": "datum.value % 1 == 0", "value": -8}, "value": -4}, "labelFontSize": 15, "labelPadding": 11, "title": "λ(Å)", "titleFont": "Liberation Serif", "titleFontSize": 24, "titleX": 224, "titleY": 40, "titleAlign": "right", "titleBaseline": "alphabetic"}},
    "y": {"field": "f", "type": "quantitative", "scale": {"domain": [0.554, 1.01], "nice": false, "zero": false},
          "axis": {"orient": "left", "values": [0.6,0.65,0.7,0.75,0.8,0.85,0.9,0.95,1.0], "labelExpr": "abs(datum.value*10 - round(datum.value*10)) < 0.01 ? format(datum.value, '.1f') : ''", "tickSize": {"condition": {"test": "abs(datum.value*10 - round(datum.value*10)) < 0.01", "value": -6}, "value": -4}, "labelPadding": 10, "title": null}}
   }},
  {"data": {"name": "m3"}, "mark": {"type": "line", "color": "black", "strokeWidth": 1.8, "clip": true},
   "encoding": {
    "x": {"field": "w", "type": "quantitative", "scale": {"domain": [5379.35, 5381.36], "nice": false, "zero": false},
          "axis": {"orient": "top", "values": [5379.5, 5380, 5380.5, 5381], "labels": false, "title": null}},
    "y": {"field": "f", "type": "quantitative", "scale": {"domain": [0.554, 1.01], "nice": false, "zero": false},
          "axis": {"orient": "right", "values": [0.6,0.65,0.7,0.75,0.8,0.85,0.9,0.95,1.0], "tickSize": {"condition": {"test": "abs(datum.value*10 - round(datum.value*10)) < 0.01", "value": -6}, "value": -4}, "labels": false, "title": null}}
   }},
  {"data": {"name": "d3"}, "mark": {"type": "line", "color": "black", "strokeWidth": 1.6, "strokeDash": [1.5, 3.5], "clip": true},
   "encoding": {
    "x": {"field": "w", "type": "quantitative", "scale": {"domain": [5379.35, 5381.36], "nice": false, "zero": false}, "axis": null},
    "y": {"field": "f", "type": "quantitative", "scale": {"domain": [0.554, 1.01], "nice": false, "zero": false}, "axis": null}
   }},
  {"data": {"name": "r3"}, "mark": {"type": "rule", "color": "black", "strokeWidth": 1},
   "encoding": {
    "x": {"field": "w", "type": "quantitative", "scale": {"domain": [5379.35, 5381.36], "nice": false, "zero": false}, "axis": null},
    "y": {"field": "f", "type": "quantitative", "scale": {"domain": [0.554, 1.01], "nice": false, "zero": false}, "axis": null},
    "y2": {"field": "f2"}
   }},
  {"data": {"name": "t3"}, "mark": {"type": "text", "font": "Liberation Sans", "fontSize": 12, "color": "black", "align": "center", "baseline": "middle"},
   "encoding": {
    "x": {"field": "w", "type": "quantitative", "scale": {"domain": [5379.35, 5381.36], "nice": false, "zero": false}, "axis": null},
    "y": {"field": "f", "type": "quantitative", "scale": {"domain": [0.554, 1.01], "nice": false, "zero": false}, "axis": null},
    "text": {"field": "t"}
   }}
 ],
 "resolve": {"axis": {"x": "independent", "y": "independent"}}
},
{
 "width": 201, "height": 248,
 "layer": [
  {"data": {"name": "o4"}, "mark": {"type": "point", "shape": "circle", "filled": false, "size": 36, "stroke": "#7a7a7a", "strokeWidth": 0.9, "clip": true},
   "encoding": {
    "x": {"field": "w", "type": "quantitative", "scale": {"domain": [6437.9, 6440.23], "nice": false, "zero": false},
          "axis": {"orient": "bottom", "values": [6438, 6438.5, 6439, 6439.5, 6440], "labelExpr": "datum.value % 1 == 0 ? format(datum.value, 'd') : ''", "tickSize": {"condition": {"test": "datum.value % 1 == 0", "value": -8}, "value": -4}, "labelFontSize": 15, "labelPadding": 11, "title": "λ(Å)", "titleFont": "Liberation Serif", "titleFontSize": 24, "titleX": 213, "titleY": 40, "titleAlign": "right", "titleBaseline": "alphabetic"}},
    "y": {"field": "f", "type": "quantitative", "scale": {"domain": [0.554, 1.01], "nice": false, "zero": false},
          "axis": {"orient": "left", "values": [0.6,0.65,0.7,0.75,0.8,0.85,0.9,0.95,1.0], "labelExpr": "abs(datum.value*10 - round(datum.value*10)) < 0.01 ? format(datum.value, '.1f') : ''", "tickSize": {"condition": {"test": "abs(datum.value*10 - round(datum.value*10)) < 0.01", "value": -6}, "value": -4}, "labelPadding": 12, "title": null}}
   }},
  {"data": {"name": "m4"}, "mark": {"type": "line", "color": "black", "strokeWidth": 1.8, "clip": true},
   "encoding": {
    "x": {"field": "w", "type": "quantitative", "scale": {"domain": [6437.9, 6440.23], "nice": false, "zero": false},
          "axis": {"orient": "top", "values": [6438, 6438.5, 6439, 6439.5, 6440], "labels": false, "title": null}},
    "y": {"field": "f", "type": "quantitative", "scale": {"domain": [0.554, 1.01], "nice": false, "zero": false},
          "axis": {"orient": "right", "values": [0.6,0.65,0.7,0.75,0.8,0.85,0.9,0.95,1.0], "tickSize": {"condition": {"test": "abs(datum.value*10 - round(datum.value*10)) < 0.01", "value": -6}, "value": -4}, "labels": false, "title": null}}
   }},
  {"data": {"name": "d4"}, "mark": {"type": "line", "color": "black", "strokeWidth": 1.6, "strokeDash": [1.5, 3.5], "clip": true},
   "encoding": {
    "x": {"field": "w", "type": "quantitative", "scale": {"domain": [6437.9, 6440.23], "nice": false, "zero": false}, "axis": null},
    "y": {"field": "f", "type": "quantitative", "scale": {"domain": [0.554, 1.01], "nice": false, "zero": false}, "axis": null}
   }},
  {"data": {"name": "t4"}, "mark": {"type": "text", "font": "Liberation Sans", "fontSize": 12, "color": "black", "align": "center", "baseline": "middle"},
   "encoding": {
    "x": {"field": "w", "type": "quantitative", "scale": {"domain": [6437.9, 6440.23], "nice": false, "zero": false}, "axis": null},
    "y": {"field": "f", "type": "quantitative", "scale": {"domain": [0.554, 1.01], "nice": false, "zero": false}, "axis": null},
    "text": {"field": "t"}
   }}
 ],
 "resolve": {"axis": {"x": "independent", "y": "independent"}}
}
]
}
